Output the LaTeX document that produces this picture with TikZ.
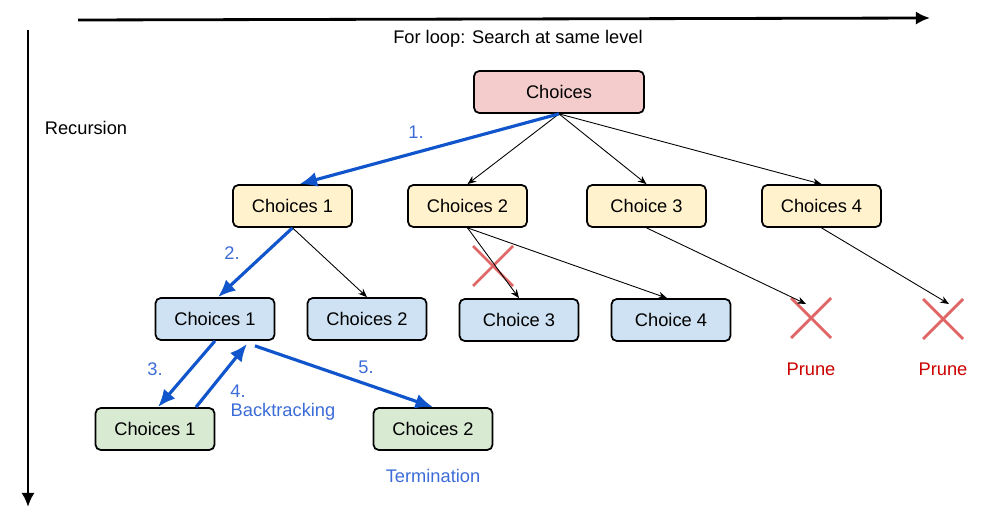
\documentclass[tikz,border=0pt]{standalone}
\usepackage{fontspec}
\setmainfont{Liberation Sans}
\usetikzlibrary{arrows.meta}
\definecolor{rootfill}{HTML}{F4CCCC}
\definecolor{levelone}{HTML}{FFF2CC}
\definecolor{leveltwo}{HTML}{CFE2F3}
\definecolor{levelthree}{HTML}{D9EAD3}
\definecolor{stepblue}{HTML}{1155CC}
\definecolor{labelblue}{HTML}{3C6CD8}
\definecolor{crossred}{HTML}{E06666}
\definecolor{prunered}{HTML}{CC0000}

\begin{document}
\begin{tikzpicture}[x=0.02cm,y=-0.02cm,font=\fontsize{10.4}{12}\selectfont,
    box/.style={draw,line width=1pt,rounded corners=3pt,minimum width=2.38cm,minimum height=0.84cm},
    thinedge/.style={-{Stealth[length=5pt,width=4pt]},line width=0.5pt},
    blueedge/.style={-{Latex[length=10pt,width=8.5pt]},line width=1.8pt,draw=stepblue},
    axis/.style={-{Latex[length=8pt,width=7.5pt]},line width=1.6pt},
    steplabel/.style={text=labelblue},
    crossline/.style={draw=crossred,line width=1.6pt}]
    \useasboundingbox (0,0) rectangle (986,520);
    \def\r{20}
    % axes
    \coordinate (loopstart) at (78,20);
    \coordinate (loopend) at (930,18);
    \coordinate (recstart) at (28,30);
    \coordinate (recend) at (28,507);
    \draw[axis] (loopstart) -- (loopend);
    \draw[axis] (recstart) -- (recend);
    \node (looplbl) at (518,39) {For loop: Search at same level};
    \node (reclbl) at (86,128) {Recursion};
    % root
    \node[box,fill=rootfill,minimum width=3.4cm] (root) at (559,92) {Choices};
    % first level
    \node[box,fill=levelone] (a1) at (292.5,206) {Choices 1};
    \node[box,fill=levelone] (a2) at (467.5,206) {Choices 2};
    \node[box,fill=levelone] (a3) at (646.5,206) {Choice 3};
    \node[box,fill=levelone] (a4) at (821.5,206) {Choices 4};
    % second level
    \node[box,fill=leveltwo] (b1) at (215,319) {Choices 1};
    \node[box,fill=leveltwo] (b2) at (367,319) {Choices 2};
    \node[box,fill=leveltwo] (b3) at (519,320) {Choice 3};
    \node[box,fill=leveltwo] (b4) at (671,320) {Choice 4};
    % third level
    \node[box,fill=levelthree] (c1) at (155,429) {Choices 1};
    \node[box,fill=levelthree] (c2) at (433,429) {Choices 2};
    % pruned ends
    \coordinate (p3) at (806,304);
    \coordinate (p4) at (949,304);
    \foreach \cx/\cy in {493/266, 811/318, 943/319} {
      \draw[crossline] (\cx-\r,\cy-\r) -- (\cx+\r,\cy+\r) (\cx-\r,\cy+\r) -- (\cx+\r,\cy-\r);
    }
    \node[text=prunered] (prune3) at (811,369) {Prune};
    \node[text=prunered] (prune4) at (943,369) {Prune};
    % thin edges
    \draw[thinedge] (root.south) -- (a2.north);
    \draw[thinedge] (root.south) -- (a3.north);
    \draw[thinedge] (root.south) -- (a4.north);
    \draw[thinedge] (a1.south) -- (b2.north);
    \draw[thinedge] (a2.south) -- (b3.north);
    \draw[thinedge] (a2.south) -- ([xshift=-0.08cm]b4.north);
    \draw[thinedge] (a3.south) -- (p3);
    \draw[thinedge] (a4.south) -- (p4);
    % search steps
    \draw[blueedge] (root.south) -- ([xshift=0.14cm]a1.north);
    \draw[blueedge] (a1.south) -- ([xshift=0.06cm]b1.north);
    \draw[blueedge] (b1.south) -- ([xshift=0.06cm]c1.north);
    \draw[blueedge] ([xshift=0.82cm]c1.north) -- ([xshift=0.64cm,yshift=-0.06cm]b1.south);
    \draw[blueedge] ([xshift=0.8cm,yshift=-0.1cm]b1.south) -- (c2.north);
    \node[steplabel] (s1) at (416,132) {1.};
    \node[steplabel] (s2) at (232,253) {2.};
    \node[steplabel] (s3) at (155,369) {3.};
    \node[steplabel] (s4) at (238,391) {4.};
    \node[steplabel] (back) at (283,412) {Backtracking};
    \node[steplabel] (s5) at (366,367) {5.};
    \node[steplabel] (term) at (433,476) {Termination};
\end{tikzpicture}
\end{document}
